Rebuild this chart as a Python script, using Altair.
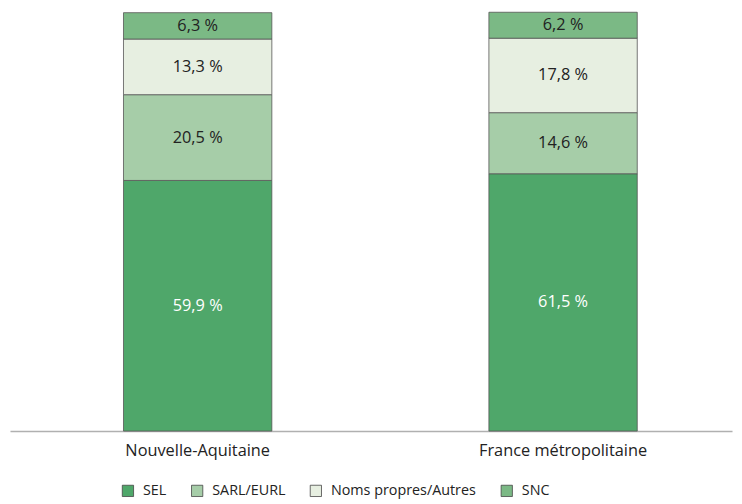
import altair as alt
import pandas as pd

regions = ["Nouvelle-Aquitaine", "France métropolitaine"]
categories = ["SEL", "SARL/EURL", "Noms propres/Autres", "SNC"]
values_na = [59.9, 20.5, 13.3, 6.3]
values_fr = [61.5, 14.6, 17.8, 6.2]
colors = ["#4fa76a", "#a6cda8", "#e7efe1", "#7bb985"]
label_colors = ["#ffffff", "#222222", "#222222", "#222222"]

rows = []
for reg, vals in zip(regions, [values_na, values_fr]):
    for i, (cat, v) in enumerate(zip(categories, vals)):
        rows.append({
            "region": reg, "cat": cat, "value": v, "order": i,
            "label": f"{v:.1f}".replace(".", ",") + " %",
            "lc": label_colors[i],
        })
df = pd.DataFrame(rows)

FONT = "Open Sans"

base = alt.Chart(df).transform_stack(
    stack="value", groupby=["region"], sort=[alt.SortField("order")], as_=["y0", "y1"]
).transform_calculate(mid="(datum.y0 + datum.y1) / 2")

x = alt.X(
    "region:N", sort=regions,
    scale=alt.Scale(paddingInner=0.594, paddingOuter=0.285, align=0.545),
    axis=alt.Axis(title=None, labelAngle=0, domainColor="#b0b0b0", domainWidth=1.5,
                  ticks=False, labelFontSize=16.5, labelColor="#222222",
                  labelPadding=12, labelFont=FONT),
)

bars = base.mark_bar(stroke="#555555", strokeWidth=0.8).encode(
    x=x,
    y=alt.Y("y0:Q", scale=alt.Scale(domain=[0, 100], nice=False), axis=None),
    y2="y1:Q",
    color=alt.Color(
        "cat:N", sort=categories,
        scale=alt.Scale(domain=categories, range=colors),
        legend=alt.Legend(
            title=None, orient="none", legendX=112, legendY=476,
            direction="horizontal", symbolType="square", symbolSize=130,
            symbolStrokeColor="#444444", symbolStrokeWidth=0.8,
            labelFontSize=14.5, labelFont=FONT, labelColor="#222222",
            columnPadding=22, labelOffset=8,
        ),
    ),
    order=alt.Order("order:Q"),
)

texts = base.mark_text(fontSize=16.5, font=FONT).encode(
    x=alt.X("region:N", sort=regions),
    y=alt.Y("mid:Q"),
    text="label:N",
    color=alt.Color("lc:N", scale=None),
)

chart = alt.layer(bars, texts).resolve_scale(color="independent").properties(
    width=730, height=423,
    autosize=alt.AutoSizeParams(type="none"),
    padding={"left": 2, "top": 2, "right": 2, "bottom": 70},
).configure_view(stroke=None)

chart.save("out.html", embed_options={"renderer": "svg", "actions": False})
